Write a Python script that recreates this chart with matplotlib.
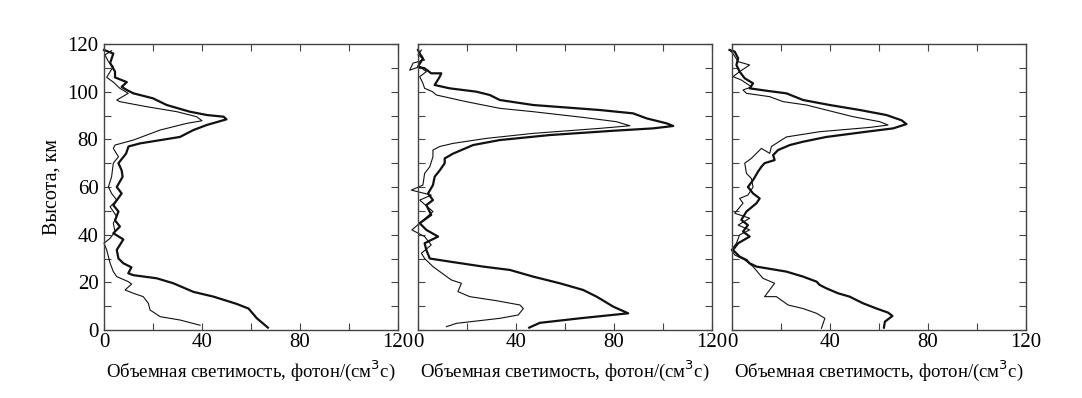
import matplotlib.pyplot as plt
import numpy as np

plt.rcParams['font.family'] = ['Liberation Serif', 'DejaVu Serif']

# panel 1
p1_thick_x = [66.9, 62.4, 59, 54, 44.7, 36.5, 28.3, 21.5, 12, 9.9, 11.2, 7.9, 5.9, 5.2, 7.9, 3.8, 6.5, 4.5,
              5.9, 3.8, 7.2, 5.2, 7.6, 7.2, 5.9, 9, 10, 14.7, 31, 36.5, 41.9, 50, 48.8, 42, 35, 25.6, 20, 12,
              9.3, 7.2, 9.3, 4.5, 4.5, 2.5, 3.8, 0]
p1_thick_y = [1, 4.9, 9, 11, 14, 16, 19.6, 21.7, 23, 23.8, 26.3, 28, 30, 33.6, 38, 40.6, 43.4, 46,
              49.7, 52.4, 57.3, 60, 64.3, 67, 70, 74, 77, 78.3, 81, 83.9, 86, 88.4, 89.5, 90.2, 91.6, 94.4, 97.2, 99.3,
              100.7, 102, 104, 106, 108.4, 112, 116, 117.5]
p1_thin_x = [39.2, 31, 22.9, 18.8, 18.1, 16, 12, 8.6, 11.3, 9.9, 5.2, 3.8, 2.5, 1.1, 0, 2.5, 4.5, 3.8, 5.2,
             2.5, 5.2, 3.1, 1.8, 3.1, 3.8, 5.9, 3.8, 4.5, 12, 22.9, 33.8, 40, 37.8, 29.7, 17.4, 6.5, 5.2, 9.9,
             6.5, 3.8, 1.1, 2.5, 3.8, 1.8, 0.4, 3.1]
p1_thin_y = [2, 4.2, 5.6, 8.4, 11.2, 14, 15.4, 16.8, 19.3, 20.3, 22.4, 24.5, 28, 33.6, 36.4, 38.5, 41.3, 44.8, 47.6,
             51.7, 54.5, 57.3, 60, 64.3, 70, 72.7, 76.2, 77.6, 79.7, 83.9, 86.7, 87.8, 89.5, 91.6, 93.7, 95.8, 96.5, 99.3,
             101.4, 104, 106, 108.4, 110.5, 112.6, 115.4, 117.2]

# panel 2
p2_thick_x = [45.4, 49.7, 66, 85.8, 79.7, 72.9, 67.4, 57.9, 47, 37.5, 26.6, 12.9, 4.8, 3.4, 2.7, 8.2, 3.4, 0.7,
              5.4, 3.4, 6.1, 4.1, 6.1, 6.8, 8.9, 10.9, 10.9, 14.3, 22.5, 33.4, 53.8, 79.7, 96, 104.2, 101.5, 93.3,
              87.8, 74.2, 47, 33.4, 29.3, 23.8, 12.9, 6.8, 8.9, 9.5, 5.4, 2.7, 0, 2, 0.7, 0]
p2_thick_y = [1, 3, 4.9, 7, 9.8, 14, 16.8, 19.6, 22.4, 25.2, 26.6, 28.7, 30, 33.6, 36.4, 39.2, 42, 44.8,
              48.3, 52.4, 54.5, 57.3, 60.8, 64.3, 67, 70, 72, 74, 77.6, 79.7, 81.8, 83.6, 84.6, 85.6, 86.7, 88.8,
              90.9, 92.3, 94.4, 96.5, 98.6, 100, 101.4, 102.8, 106.3, 107.7, 107.7, 109.8, 110.5, 114, 116, 117.5]
p2_thin_x = [11.6, 15.7, 33.4, 40.9, 43, 41.6, 32, 21.1, 16.3, 17.7, 13.6, 6.1, 2.7, 1.4, 5.4, 2.7, -2.5, 0.7,
             6.1, 0.7, 5.4, -2.7, 2, 2.7, 4.8, 6.1, 6.1, 8.9, 14.3, 27.9, 47, 74.2, 86.5, 81, 67.4, 47, 33.4,
             19.7, 7.5, 5.9, 2.7, 2, 0.7, 3.4, 0.7, -3.4, -2, 2.7, 0, 1.4]
p2_thin_y = [1.4, 2.8, 4.9, 6.3, 9, 10.5, 12.3, 14, 16.1, 19.6, 21, 26.6, 30, 32.2, 35.7, 39.2, 42, 44.8,
             49.7, 54.5, 56.6, 58.7, 60.8, 65.7, 68.5, 72.7, 75.5, 77, 78.3, 80.4, 82.5, 84.6, 85.7, 87.4, 89.2, 91.6, 93,
             95.8, 98.6, 100, 101.4, 103.5, 106.3, 108.4, 110.5, 109, 112, 113.3, 115.4, 117.5]

# panel 3
p3_thick_x = [62, 62.4, 65.5, 63.7, 59, 53.5, 48, 43.3, 38.5, 35.8, 34.5, 29, 22.2, 10, 7.2, 5.9, 3.1, 0.4,
              2.5, 7.2, 4.5, 6.5, 3.8, 5.9, 10, 11.3, 8.6, 6.5, 8.6, 10.6, 12, 13.3, 17.4, 16.8, 18.8, 23.6, 29,
              38.5, 54.9, 65.8, 71.2, 69.2, 63, 52.2, 39.9, 29, 22.2, 14, 7.2, 8.6, 5.2, 3.1, 1.8, 2.5, 1.1, -1]
p3_thick_y = [1, 3.5, 5.9, 7.3, 9, 11.2, 14, 15.4, 17.5, 18.9, 20.3, 22.4, 24.5, 26.6, 28, 29.4, 30.8, 33.6,
              36.4, 39.2, 41.3, 44, 46.2, 49.7, 53.2, 55.2, 57.3, 60, 62.9, 66.4, 68.5, 70, 71.3, 73.4, 75.5, 77.6, 79,
              81, 83.2, 84.6, 86.4, 88, 90.2, 92.3, 94.4, 96.5, 99.3, 100.4, 101.4, 103.5, 105.6, 108.4, 111.2, 114, 116.8, 117.5]
p3_thin_x = [36.5, 37.2, 37.9, 34.5, 29, 22.9, 18.1, 13.3, 17.4, 12.6, 8.6, 5.2, 1.1, -0.3, 1.8, 3.1, 7.2, 2.5,
             7.2, 1.1, 4.5, 3.1, 6.5, 8.6, 7.9, 5.9, 5.2, 7.9, 12, 15.4, 16.1, 22.2, 35.8, 56.2, 63.7, 60.3, 49.4,
             38.5, 30.4, 20.9, 15.4, 5.9, 4.5, 8, 3.8, 0.4, 3.1, 7.2, 2.5, 0.4, -1]
p3_thin_y = [0.7, 2.8, 4.9, 7, 9, 10.5, 14, 14, 19.6, 21.7, 26.6, 29.4, 31.5, 33.6, 36.4, 39.9, 42, 44,
             46.9, 49, 53.2, 55.2, 56.6, 60, 63.6, 65.7, 70, 72, 76.2, 74.1, 77, 81, 83.2, 85, 86, 87.4, 89.5,
             92.3, 94.4, 95.8, 97.9, 99.3, 100.7, 102, 104.9, 106.3, 108.4, 111.2, 112.6, 116, 117.5]

panels = [(p1_thick_x, p1_thick_y, p1_thin_x, p1_thin_y),
          (p2_thick_x, p2_thick_y, p2_thin_x, p2_thin_y),
          (p3_thick_x, p3_thick_y, p3_thin_x, p3_thin_y)]
lefts = [104, 418, 732]
xticks = [0, 40, 80, 120]
yticks = [0, 20, 40, 60, 80, 100, 120]

fig = plt.figure(figsize=(10.82, 3.98), dpi=100)
for i, (tx, ty, nx, ny) in enumerate(panels):
    ax = fig.add_axes([lefts[i] / 1082, 1 - 330 / 398, 294 / 1082, 286 / 398])
    ax.plot(tx, ty, color='#111111', lw=1.6, clip_on=False)
    ax.plot(nx, ny, color='#111111', lw=0.8, clip_on=False)
    ax.set_xlim(0, 120)
    ax.set_ylim(0, 120)
    ax.set_xticks(xticks)
    ax.set_xticks([20, 60, 100], minor=True)
    ax.set_yticks(yticks)
    ax.set_yticks(np.arange(10, 120, 20), minor=True)
    ax.tick_params(which='both', direction='in', top=True, right=True, length=5, width=0.8,
                   color='#444444', labelsize=15, pad=2)
    ax.tick_params(axis='y', pad=4)
    for s in ax.spines.values():
        s.set_color('#444444')
        s.set_linewidth(1.0)
    if i == 0:
        ax.set_ylabel('Высота, км', fontsize=14.5, labelpad=4)
    else:
        ax.set_yticklabels([])
    ax.set_xlabel('Объемная светимость, фотон/(см$^3$с)', fontsize=13.5, labelpad=5)

fig.savefig('out.png', dpi=100)
